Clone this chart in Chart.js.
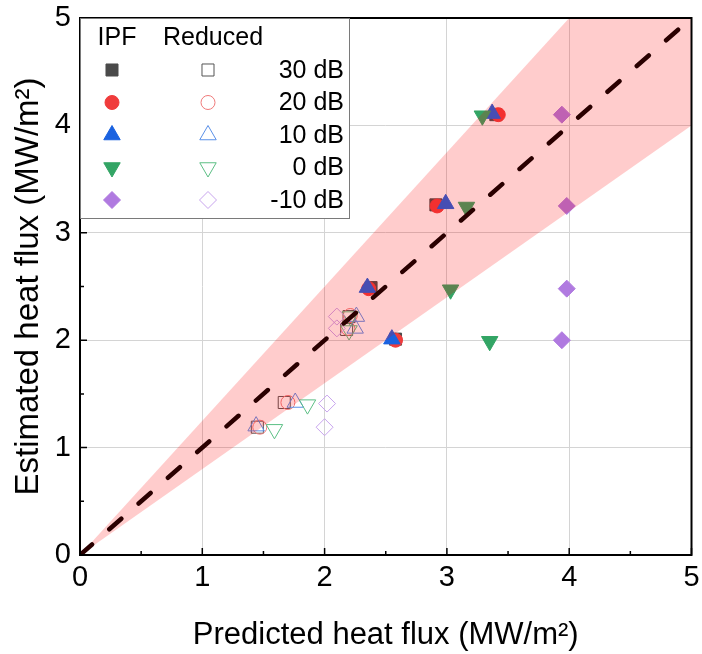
<!DOCTYPE html>
<html>
<head>
<meta charset="utf-8">
<script src="https://cdn.jsdelivr.net/npm/chart.js@4/dist/chart.umd.min.js"></script>
<style>
  body { margin: 0; background: #fff; }
  #wrap { width: 702px; height: 654px; }
</style>
</head>
<body>
<div id="wrap"><canvas id="chart" width="702" height="654"></canvas></div>
<script>
// series labels (noise level)
const levels = ['30 dB', '20 dB', '10 dB', '0 dB', '-10 dB'];

// [predicted, estimated] heat flux, MW/m2 -- IPF (filled markers)
const ipf30 = [[3.40, 4.10], [2.91, 3.26], [2.38, 2.49], [2.58, 2.01]];
const ipf20 = [[3.42, 4.10], [2.92, 3.25], [2.36, 2.48], [2.58, 2.00]];
const ipf10 = [[3.37, 4.11], [2.99, 3.27], [2.35, 2.49], [2.55, 2.01]];
const ipf0 = [[3.29, 4.09], [3.16, 3.24], [3.03, 2.47], [3.35, 1.99]];
const ipfM10 = [[3.94, 4.10], [3.98, 3.25], [3.98, 2.48], [3.94, 2.00]];

// Reduced (open markers)
const red30 = [[2.20, 2.22], [2.18, 2.10], [1.67, 1.42], [1.45, 1.19]];
const red20 = [[2.21, 2.23], [2.19, 2.11], [1.70, 1.42], [1.47, 1.19]];
const red10 = [[2.26, 2.22], [2.25, 2.11], [1.76, 1.42], [1.44, 1.20]];
const red0 = [[2.21, 2.22], [2.20, 2.09], [1.86, 1.40], [1.59, 1.17]];
const redM10 = [[2.10, 2.22], [2.10, 2.11], [2.02, 1.41], [2.00, 1.19]];

// y = x reference and +25% / -20% band
const parityLine = [[0, 0], [5, 5]];
const bandLower = [[0, 0], [5, 4]];
const bandUpper = [[0, 0], [5, 6.25]];

const ticksX = [0, 1, 2, 3, 4, 5];

const fullColors = ['#4a4a4a', '#f03c3c', '#1a62e0', '#33a565', '#b07ae0'];
const openColors = ['#555555', '#f07a7a', '#5a90e8', '#5cbf85', '#c8a4ee'];
const markers = [
  { pointStyle: 'rect', radius: 8.5, rotation: 0 },
  { pointStyle: 'circle', radius: 7, rotation: 0 },
  { pointStyle: 'triangle', radius: 9.5, rotation: 0 },
  { pointStyle: 'triangle', radius: 9.5, rotation: 180 },
  { pointStyle: 'rectRot', radius: 8.5, rotation: 0 }
];

const FONT = "'Liberation Sans', Arial, sans-serif";
const toXY = arr => arr.map(p => ({ x: p[0], y: p[1] }));

const ipfSets = [ipf30, ipf20, ipf10, ipf0, ipfM10];
const redSets = [red30, red20, red10, red0, redM10];

const datasets = [];
ipfSets.forEach((d, i) => {
  datasets.push({
    label: 'IPF ' + levels[i],
    data: toXY(d),
    pointStyle: markers[i].pointStyle,
    pointRadius: markers[i].radius,
    rotation: markers[i].rotation,
    backgroundColor: fullColors[i],
    borderColor: fullColors[i],
    borderWidth: 1,
    order: 10 + (4 - i)
  });
});
redSets.forEach((d, i) => {
  datasets.push({
    label: 'Reduced ' + levels[i],
    data: toXY(d),
    pointStyle: markers[i].pointStyle,
    pointRadius: markers[i].radius,
    rotation: markers[i].rotation,
    backgroundColor: 'rgba(0,0,0,0)',
    borderColor: openColors[i],
    borderWidth: 1,
    order: 20 + (4 - i)
  });
});
datasets.push({
  type: 'line',
  label: 'band lower',
  data: toXY(bandLower),
  borderWidth: 0,
  pointRadius: 0,
  fill: false,
  order: 3
});
datasets.push({
  type: 'line',
  label: 'band upper',
  data: toXY(bandUpper),
  borderWidth: 0,
  pointRadius: 0,
  fill: '-1',
  backgroundColor: 'rgba(255,0,0,0.2)',
  order: 2
});
datasets.push({
  type: 'line',
  label: 'y = x',
  data: toXY(parityLine),
  borderColor: '#2a0000',
  borderWidth: 4.5,
  borderDash: [16, 23],
  borderCapStyle: 'round',
  pointRadius: 0,
  fill: false,
  order: 1
});

// inward ticks + black frame
const framePlugin = {
  id: 'frame',
  afterDatasetsDraw(chart) {
    const { ctx, chartArea: a, scales } = chart;
    ctx.save();
    ctx.strokeStyle = '#000';
    ctx.lineWidth = 1.5;
    ctx.beginPath();
    scales.x.ticks.forEach(t => {
      const px = scales.x.getPixelForValue(t.value);
      const len = Number.isInteger(t.value) ? 7 : 4;
      ctx.moveTo(px, a.bottom);
      ctx.lineTo(px, a.bottom - len);
    });
    scales.y.ticks.forEach(t => {
      const py = scales.y.getPixelForValue(t.value);
      const len = Number.isInteger(t.value) ? 7 : 4;
      ctx.moveTo(a.left, py);
      ctx.lineTo(a.left + len, py);
    });
    ctx.stroke();
    ctx.lineWidth = 2;
    ctx.strokeRect(a.left, a.top, a.right - a.left, a.bottom - a.top);
    ctx.restore();
  }
};

// two-column marker legend in the top-left corner
const legendPlugin = {
  id: 'markerLegend',
  afterDraw(chart) {
    const { ctx, chartArea: a } = chart;
    const left = a.left, top = a.top;
    ctx.save();
    ctx.fillStyle = '#fff';
    ctx.fillRect(left, top, 269, 200);
    ctx.strokeStyle = '#7a7a7a';
    ctx.lineWidth = 1;
    ctx.strokeRect(left + 0.5, top + 0.5, 269, 200);

    ctx.fillStyle = '#000';
    ctx.font = '25px ' + FONT;
    ctx.textBaseline = 'middle';
    ctx.textAlign = 'center';
    ctx.fillText('IPF', left + 37, top + 20);
    ctx.fillText('Reduced', left + 133, top + 20);

    levels.forEach((lab, i) => {
      const yy = top + 52 + i * 32.5;
      const m = markers[i];
      const opts = { pointStyle: m.pointStyle, radius: m.radius, rotation: m.rotation, borderWidth: 1 };
      ctx.fillStyle = fullColors[i];
      ctx.strokeStyle = fullColors[i];
      Chart.helpers.drawPoint(ctx, opts, left + 32, yy);
      ctx.fillStyle = 'rgba(0,0,0,0)';
      ctx.strokeStyle = openColors[i];
      Chart.helpers.drawPoint(ctx, opts, left + 128, yy);
      ctx.fillStyle = '#000';
      ctx.textAlign = 'right';
      ctx.fillText(lab, left + 264, yy + 1);
    });
    ctx.restore();
  }
};

new Chart(document.getElementById('chart'), {
  type: 'scatter',
  data: { datasets },
  options: {
    responsive: false,
    animation: false,
    layout: { padding: { top: 18, right: 8, left: 0, bottom: 0 } },
    plugins: { legend: { display: false }, tooltip: { enabled: false } },
    scales: {
      x: {
        type: 'linear',
        min: 0,
        max: 5,
        afterFit: s => {
          s.height = 99;
          s.paddingLeft = 0;
          s.paddingRight = 0;
        },
        afterBuildTicks: s => {
          s.ticks = [];
          for (let v = 0; v <= 10; v++) s.ticks.push({ value: v / 2 });
        },
        ticks: {
          autoSkip: false,
          maxRotation: 0,
          padding: 6,
          color: '#000',
          font: { family: FONT, size: 29 },
          callback: v => (ticksX.includes(v) ? String(v) : '')
        },
        grid: {
          drawTicks: false,
          lineWidth: 1,
          color: c => (Number.isInteger(c.tick.value) ? '#d4d4d4' : 'rgba(0,0,0,0)')
        },
        border: { display: false },
        title: {
          display: true,
          text: 'Predicted heat flux (MW/m²)',
          color: '#000',
          font: { family: FONT, size: 31 },
          padding: { top: 0, bottom: 0 }
        }
      },
      y: {
        type: 'linear',
        min: 0,
        max: 5,
        afterFit: s => {
          s.width = 80;
          s.paddingTop = 0;
          s.paddingBottom = 0;
        },
        afterBuildTicks: s => {
          s.ticks = [];
          for (let v = 0; v <= 10; v++) s.ticks.push({ value: v / 2 });
        },
        ticks: {
          autoSkip: false,
          padding: 9,
          color: '#000',
          font: { family: FONT, size: 29 },
          callback: v => (Number.isInteger(v) ? String(v) : '')
        },
        grid: {
          drawTicks: false,
          lineWidth: 1,
          color: c => (Number.isInteger(c.tick.value) ? '#d4d4d4' : 'rgba(0,0,0,0)')
        },
        border: { display: false },
        title: {
          display: true,
          text: 'Estimated heat flux (MW/m²)',
          color: '#000',
          font: { family: FONT, size: 33 },
          padding: { top: 9, bottom: 0 }
        }
      }
    }
  },
  plugins: [framePlugin, legendPlugin]
});
</script>
</body>
</html>
